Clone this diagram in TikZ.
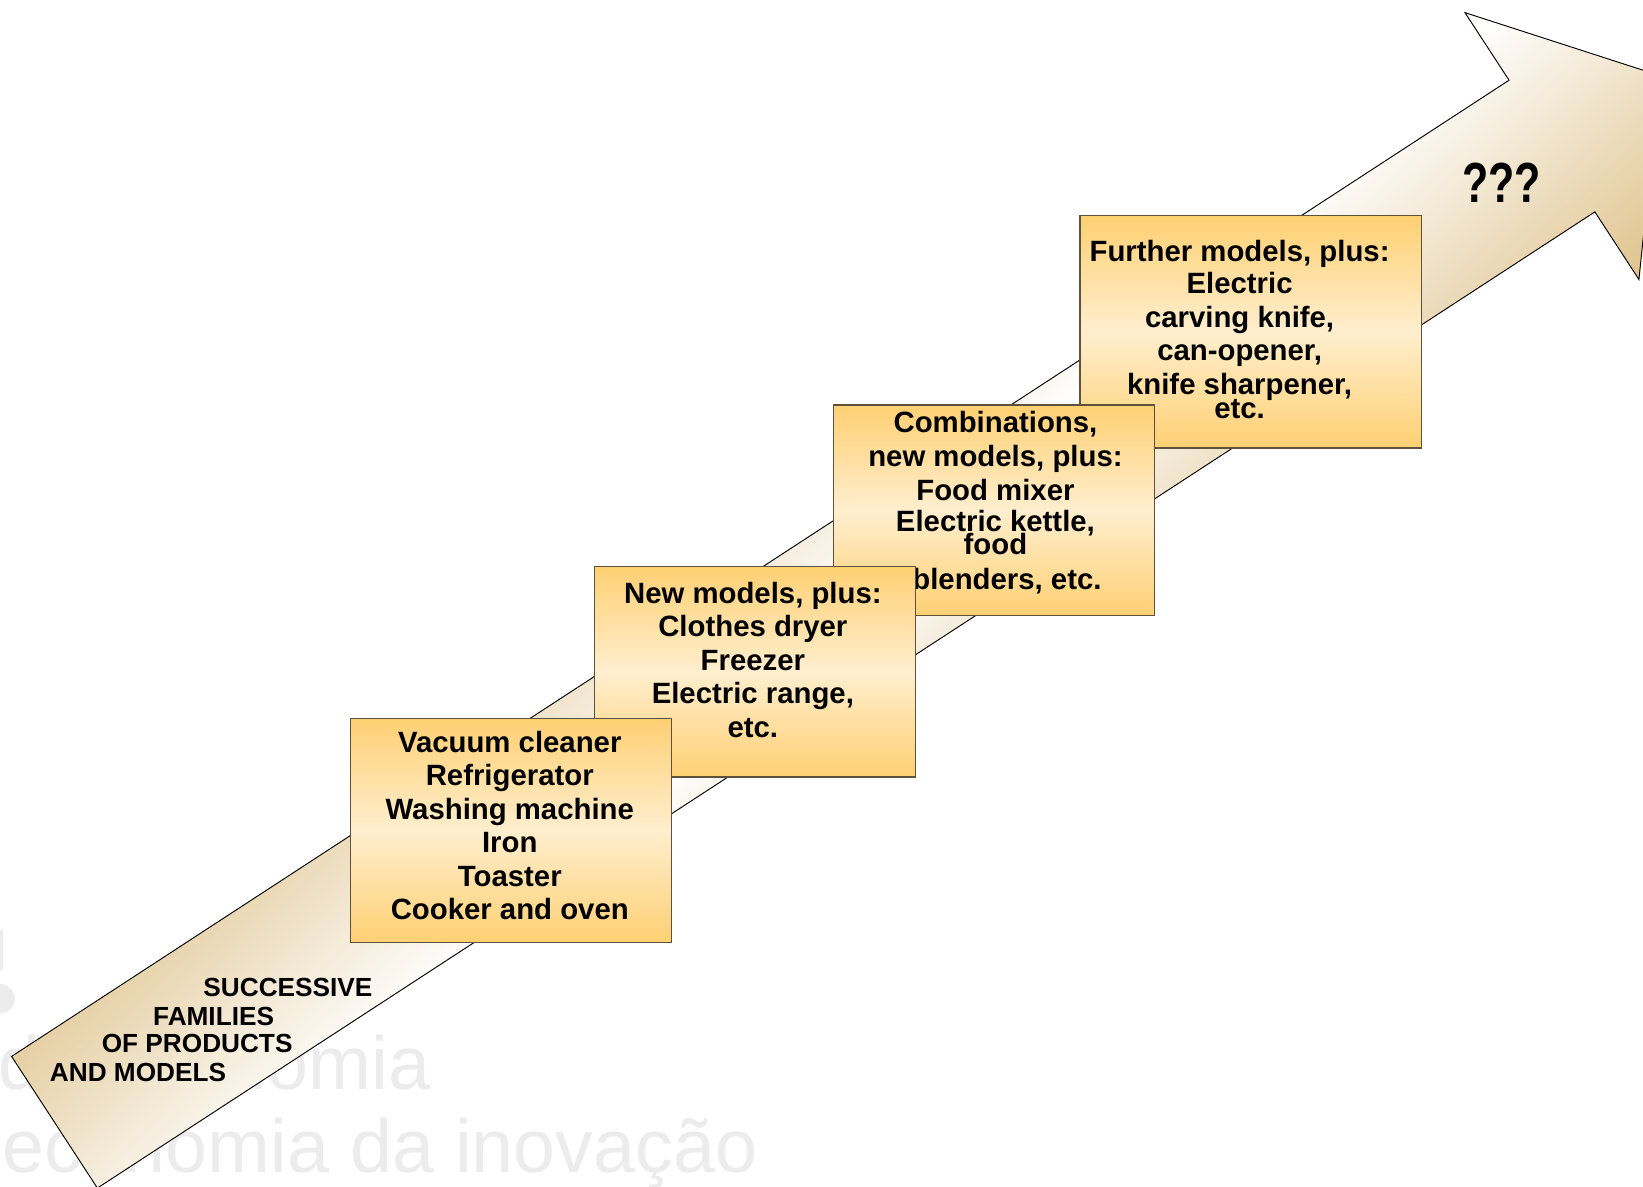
\documentclass[tikz,border=0pt]{standalone}
\usepackage{fontspec}
\usepackage{graphicx}
\setmainfont{Liberation Sans}
\definecolor{arrowtan}{RGB}{221,191,133}
\definecolor{boxedge}{RGB}{95,82,60}
\definecolor{boxtop}{RGB}{255,208,115}
\definecolor{boxmid}{RGB}{255,238,206}
\definecolor{wmark}{RGB}{236,236,236}
\pgfdeclarehorizontalshading{arrowshade}{100bp}{color(0bp)=(arrowtan); color(25bp)=(arrowtan); color(50bp)=(white); color(75bp)=(arrowtan); color(100bp)=(arrowtan)}
\begin{document}
\begin{tikzpicture}[x=1pt,y=-1pt,
  boxstyle/.style={draw=boxedge, line width=1.2pt, top color=boxtop, bottom color=boxtop, middle color=boxmid, rectangle, inner sep=0pt, anchor=north west},
  boxtext/.style={font=\fontsize{28}{32}\selectfont\bfseries, align=center, inner sep=0pt, anchor=north, text=black},
  famtext/.style={font=\fontsize{25}{25}\selectfont\bfseries, inner sep=0pt, anchor=base west},
  wmtext/.style={font=\fontsize{72}{72}\selectfont, text=wmark, inner sep=0pt, anchor=base west}
]
\useasboundingbox (0,0) rectangle (1568,1132);
\fill[white] (0,0) rectangle (1568,1132);
\begin{scope}
\clip (0,0) rectangle (1568,1132);
% watermark (behind the arrow)
\node[wmtext] (wm1) at (-2,1040) {da economia};
\node[wmtext] (wm2) at (2,1119) {economia da inovação};
\fill[wmark] (0,888) rectangle (3,926);
\fill[wmark] (0,953) circle (14pt);
% big arrow, drawn in its own frame (axis along u)
\begin{scope}[transform canvas={shift={(52,1071)},rotate=33.1}]
  \begin{scope}
    \clip (0,-75) -- (1706,-75) -- (1706,-152) -- (1829,0) -- (1706,152) -- (1706,75) -- (0,75) -- cycle;
    \begin{scope}[transform canvas={rotate=-80.56}]
      \shade[shading=arrowshade] (-150,-2200) rectangle (450,2200);
    \end{scope}
  \end{scope}
  \draw[black, line width=0.9pt]
   (0,-75) -- (1706,-75) -- (1706,-152) -- (1829,0) -- (1706,152) -- (1706,75) -- (0,75) -- cycle;
\end{scope}
\end{scope}
% labels on the arrow
\node[famtext] (f1) at (194,951) {SUCCESSIVE};
\node[famtext] (f2) at (146,978.5) {FAMILIES};
\node[famtext] (f3) at (97,1004.5) {OF PRODUCTS};
\node[famtext] (f4) at (47.5,1032) {AND MODELS};
\node[font=\fontsize{54}{54}\selectfont\bfseries, inner sep=0pt, anchor=base] (qq) at (1433,193) {\scalebox{0.76}[1]{???}};
% box 4
\node[boxstyle, minimum width=326pt, minimum height=222pt] (b4) at (1030,205) {};
\node[boxtext] (t4) at (1183,229) {Further models, plus:\\[-1pt]Electric\\carving knife,\\can-opener,\\knife sharpener,\\[-9pt]etc.};
% box 3
\node[boxstyle, minimum width=306pt, minimum height=201pt] (b3) at (795,386) {};
\node[boxtext] (t3) at (950,392) {Combinations,\\[1pt]new models, plus:\\Food mixer\\[-2pt]Electric kettle,\\[-10pt]food\\[1pt]\hspace*{22pt}blenders, etc.};
% box 2
\node[boxstyle, minimum width=306pt, minimum height=201pt] (b2) at (567,540) {};
\node[boxtext] (t2) at (718.5,555) {New models, plus:\\Clothes dryer\\Freezer\\Electric range,\\etc.};
% box 1
\node[boxstyle, minimum width=306pt, minimum height=214pt] (b1) at (334,685) {};
\node[boxtext] (t1) at (486.5,697.5) {Vacuum cleaner\\Refrigerator\\Washing machine\\Iron\\Toaster\\Cooker and oven};
\end{tikzpicture}
\end{document}
